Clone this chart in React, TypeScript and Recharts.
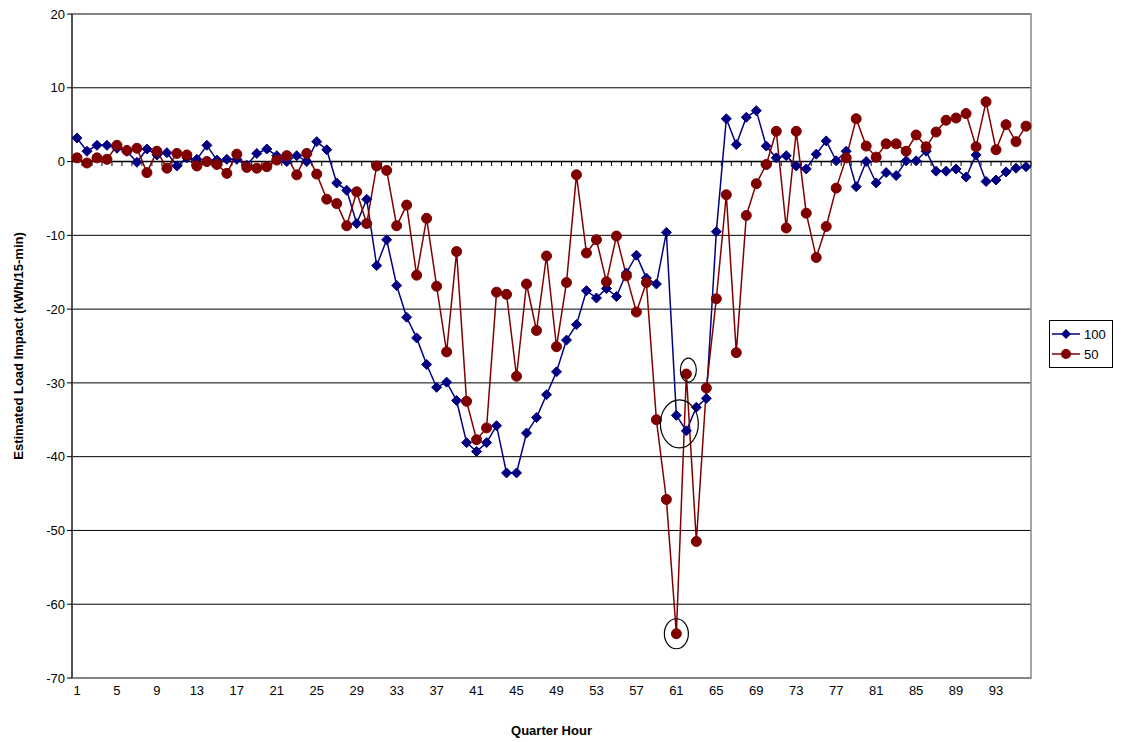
import React from "react";
import { ComposedChart, Line, XAxis, YAxis, CartesianGrid, ReferenceLine, ReferenceArea, ReferenceDot } from "recharts";

const quarters = Array.from({ length: 96 }, (_, i) => i + 1);
const s100 = [3.2,1.4,2.2,2.2,1.8,1.4,-0.1,1.7,0.9,1.2,-0.6,0.5,0.3,2.2,0.2,0.3,0.3,-0.5,1.1,1.7,0.8,0,0.8,0,2.7,1.6,-2.9,-3.9,-8.4,-5.1,-14.1,-10.6,-16.8,-21.1,-23.9,-27.5,-30.6,-29.9,-32.4,-38.1,-39.3,-38.1,-35.8,-42.2,-42.2,-36.8,-34.7,-31.6,-28.5,-24.2,-22.1,-17.5,-18.5,-17.2,-18.3,-15.1,-12.7,-15.8,-16.6,-9.6,-34.4,-36.5,-33.3,-32.1,-9.5,5.8,2.3,6.0,6.9,2.1,0.5,0.8,-0.6,-1.0,1.0,2.8,0.1,1.4,-3.4,0,-2.9,-1.5,-1.9,0.1,0.1,1.4,-1.3,-1.3,-1.0,-2.1,0.9,-2.7,-2.5,-1.4,-0.9,-0.7];
const s50 = [0.5,-0.2,0.5,0.3,2.2,1.5,1.8,-1.5,1.4,-0.9,1.1,0.9,-0.6,0,-0.4,-1.6,1.0,-0.8,-0.9,-0.7,0.2,0.8,-1.8,1.1,-1.7,-5.1,-5.7,-8.7,-4.1,-8.4,-0.6,-1.2,-8.7,-5.9,-15.4,-7.7,-16.9,-25.8,-12.2,-32.5,-37.7,-36.1,-17.7,-18.0,-29.1,-16.6,-22.9,-12.8,-25.1,-16.4,-1.8,-12.4,-10.6,-16.3,-10.1,-15.5,-20.4,-16.4,-35.0,-45.8,-64.0,-28.8,-51.5,-30.7,-18.6,-4.5,-25.9,-7.3,-3.0,-0.4,4.1,-9.0,4.1,-7.0,-13.0,-8.8,-3.6,0.5,5.8,2.1,0.6,2.4,2.4,1.4,3.6,2.0,4.0,5.6,5.9,6.5,2.0,8.1,1.6,5.0,2.7,4.8];
const xTicks = [1,5,9,13,17,21,25,29,33,37,41,45,49,53,57,61,65,69,73,77,81,85,89,93];
const yTicks = [-70,-60,-50,-40,-30,-20,-10,0,10,20];
const circles = [
  { x: 61, y: -64, dx: 0, dy: 0, rx: 12, ry: 15 },
  { x: 62, y: -28.8, dx: 2, dy: -4, rx: 8, ry: 12 },
  { x: 62, y: -36.5, dx: -7, dy: -7, rx: 19, ry: 24 },
];

const data = quarters.map((q, i) => ({ q, a: s100[i], b: s50[i] }));
const BLUE = "#000080";
const RED = "#800000";

const Diamond = (p: any) => {
  const { cx, cy } = p;
  if (cx == null || cy == null) return null;
  return <path key={p.index} d={`M${cx},${cy - 5}L${cx + 5},${cy}L${cx},${cy + 5}L${cx - 5},${cy}Z`} fill={BLUE} stroke={BLUE} />;
};
const Circle = (p: any) => {
  const { cx, cy } = p;
  if (cx == null || cy == null) return null;
  return <circle key={p.index} cx={cx} cy={cy} r={5} fill={RED} stroke={RED} />;
};

const LegendBox = () => (
  <div style={{ position: "absolute", left: 1041, top: 312, border: "1px solid #000", width: 62, padding: "3px 0", fontFamily: "Liberation Sans, Arial", fontSize: 13, background: "#fff" }}>
    {[{ n: "100", c: BLUE, d: true }, { n: "50", c: RED, d: false }].map((it) => (
      <div key={it.n} style={{ display: "flex", alignItems: "center", height: 20 }}>
        <svg width={32} height={14}>
          <line x1={2} x2={30} y1={7} y2={7} stroke={it.c} strokeWidth={1.5} />
          {it.d ? <path d="M16,2L21,7L16,12L11,7Z" fill={it.c} /> : <circle cx={16} cy={7} r={5} fill={it.c} />}
        </svg>
        <span style={{ marginLeft: 2 }}>{it.n}</span>
      </div>
    ))}
  </div>
);

export default function App() {
  return (
    <div style={{ position: "relative", width: 1114, height: 734 }}>
      <ComposedChart width={1114} height={734} data={data} margin={{ top: 6, right: 91, bottom: 0, left: 0 }} style={{ fontFamily: "Liberation Sans, Arial" }}>
        <CartesianGrid vertical={false} stroke="#000" strokeWidth={1} />
        <ReferenceArea x1={0.5} x2={96.5} y1={-70} y2={20} fill="none" stroke="#888" strokeWidth={1.5} />
        <XAxis dataKey="q" type="number" domain={[0.5, 96.5]} ticks={xTicks} interval={0} tickLine={false} axisLine={false}
          tick={{ fontSize: 13, fill: "#000" }} height={64}
          label={{ value: "Quarter Hour", position: "insideBottom", offset: 7, style: { fontWeight: "bold", fontSize: 13, fill: "#000" } }} />
        <YAxis domain={[-70, 20]} ticks={yTicks} interval={0} width={64} tick={{ fontSize: 13, fill: "#000" }} stroke="#000"
          tickSize={5}
          label={{ value: "Estimated Load Impact (kWh/15-min)", angle: -90, position: "insideLeft", offset: 10, style: { textAnchor: "middle", fontWeight: "bold", fontSize: 13, fill: "#000" } }} />
        <ReferenceLine y={0} stroke="#000" strokeWidth={1.5} />
        {quarters.map((q) => (
          <ReferenceLine key={"t" + q} segment={[{ x: q + 0.5, y: 0 }, { x: q + 0.5, y: -0.6 }]} stroke="#000" />
        ))}
        <Line dataKey="a" name="100" stroke={BLUE} strokeWidth={1.5} dot={Diamond} isAnimationActive={false} />
        <Line dataKey="b" name="50" stroke={RED} strokeWidth={1.5} dot={Circle} isAnimationActive={false} />
        {circles.map((c, i) => (
          <ReferenceDot key={"c" + i} x={c.x} y={c.y} r={1}
            shape={(p: any) => <ellipse cx={p.cx + c.dx} cy={p.cy + c.dy} rx={c.rx} ry={c.ry} fill="none" stroke="#000" strokeWidth={1.2} />} />
        ))}
      </ComposedChart>
      <LegendBox />
    </div>
  );
}
